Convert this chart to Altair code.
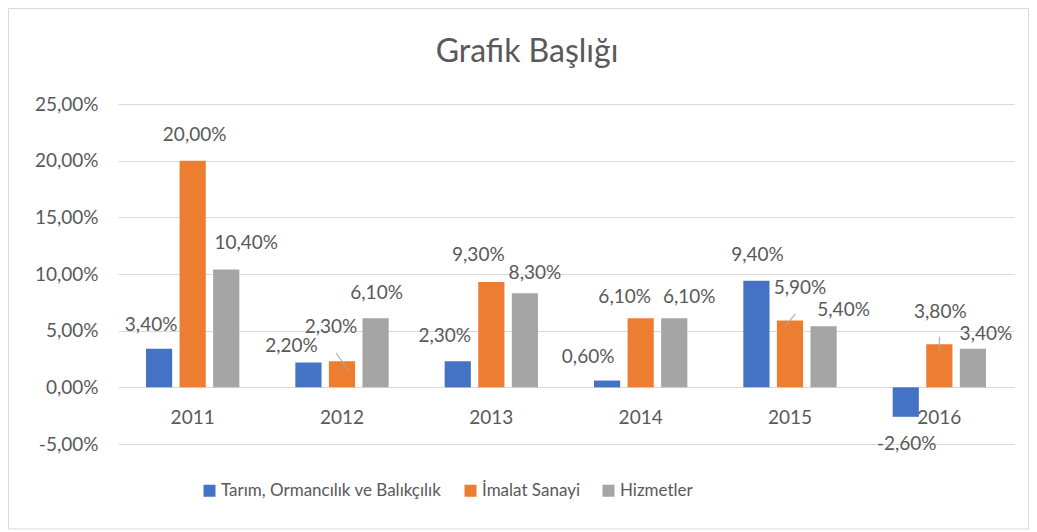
import altair as alt
import pandas as pd

years = ["2011", "2012", "2013", "2014", "2015", "2016"]
series = ["Tarım, Ormancılık ve Balıkçılık", "İmalat Sanayi", "Hizmetler"]
tarim = [3.4, 2.2, 2.3, 0.6, 9.4, -2.6]
imalat = [20.0, 2.3, 9.3, 6.1, 5.9, 3.8]
hizmet = [10.4, 6.1, 8.3, 6.1, 5.4, 3.4]
colors = ["#4472C4", "#ED7D31", "#A5A5A5"]
y_ticks = [-5, 0, 5, 10, 15, 20, 25]
title_text = "Grafik Başlığı"

# label nudges in pixels, relative to the default outside-end position
label_dx = [[-8, -17, -13, -19, 1, 1], [2, -11, -13, -16, 10, 1], [20, 1, 10, 15, 20, 13]]
label_dy = [[-4, 4, -5, -4, -6, 7], [-6, -14, -7, -1, -12, -12], [-6, -5, 0, -1, 4, 5]]
# leader lines: (year, series index, dx, dy, length, angle)
leaders = [("2012", 1, -4, -9.4, 21, 54.7), ("2015", 1, 6, -7.3, 17, 129.6), ("2016", 1, 1, -7, 15, 90)]

FONT = "Lato"
TXT = "#595959"

rows = []
for si, vals in enumerate([tarim, imalat, hizmet]):
    for yi, v in enumerate(vals):
        rows.append({"year": years[yi], "series": series[si], "value": v,
                     "label": f"{v:.2f}".replace(".", ",") + "%"})
df = pd.DataFrame(rows)

W, H = 896, 340

x_enc = alt.X("year:N", sort=years, axis=None,
              scale=alt.Scale(paddingInner=0.375, paddingOuter=0.1875))
xo_enc = alt.XOffset("series:N", sort=series,
                     scale=alt.Scale(domain=series, paddingInner=0.22))
y_enc = alt.Y("value:Q",
              scale=alt.Scale(domain=[-5, 25], nice=False, zero=False),
              axis=alt.Axis(values=y_ticks, domain=False, ticks=False, grid=True,
                            gridColor="#d9d9d9", gridWidth=1,
                            labelExpr="(datum.value < 0 ? '-' : '') + replace(format(abs(datum.value), '.2f'), '.', ',') + '%'",
                            labelFont=FONT, labelFontSize=19, labelColor=TXT,
                            labelPadding=20, title=None))

frame = alt.Chart(pd.DataFrame({"a": [0]})).mark_rect(
    fillOpacity=0, stroke="#d9d9d9", strokeWidth=1
).encode(x=alt.value(-109.5), x2=alt.value(W + 14.5),
         y=alt.value(-95.5), y2=alt.value(H + 85))

title = alt.Chart(pd.DataFrame({"t": [title_text]})).mark_text(
    font=FONT, fontSize=32, color=TXT, baseline="alphabetic", align="center"
).encode(x=alt.value(W / 2 - 39), y=alt.value(-42), text="t:N")

bars = alt.Chart(df).mark_bar().encode(
    x=x_enc, xOffset=xo_enc, y=y_enc, y2=alt.datum(0),
    color=alt.Color("series:N", sort=series,
                    scale=alt.Scale(domain=series, range=colors),
                    legend=alt.Legend(orient="none", legendX=83, legendY=378,
                                      direction="horizontal", title=None,
                                      symbolType="square", symbolSize=144,
                                      symbolStrokeWidth=0, labelFont=FONT,
                                      labelFontSize=17, labelColor=TXT,
                                      labelLimit=500,
                                      labelOffset=3, columnPadding=20)),
)

cat_labels = alt.Chart(pd.DataFrame({"year": years})).mark_text(
    font=FONT, fontSize=19, color=TXT, baseline="middle", dy=31
).encode(x=alt.X("year:N", sort=years), y=alt.datum(0), text="year:N")

layers = [frame, title, bars, cat_labels]

for si, s in enumerate(series):
    for yi, yr in enumerate(years):
        v = [tarim, imalat, hizmet][si][yi]
        base = -20 if v >= 0 else 20
        t = alt.Chart(df).transform_filter(
            (alt.datum.year == yr) & (alt.datum.series == s)
        ).mark_text(font=FONT, fontSize=19, color=TXT, baseline="middle",
                    dx=label_dx[si][yi], dy=base + label_dy[si][yi]).encode(
            x=alt.X("year:N", sort=years), xOffset=alt.XOffset("series:N", sort=series),
            y="value:Q", text="label:N")
        layers.append(t)

for yr, si, ddx, ddy, ln, ang in leaders:
    s = series[si]
    p = alt.Chart(df).transform_filter(
        (alt.datum.year == yr) & (alt.datum.series == s)
    ).mark_point(shape="M-1,0L1,0", size=ln * ln, angle=ang, filled=False,
                 stroke="#a6a6a6", strokeWidth=1, opacity=1,
                 dx=ddx, dy=ddy).encode(
        x=alt.X("year:N", sort=years), xOffset=alt.XOffset("series:N", sort=series),
        y="value:Q")
    layers.append(p)

chart = alt.layer(*layers).properties(
    width=W, height=H,
    autosize=alt.AutoSizeParams(type="none"),
    padding={"left": 110, "top": 96, "right": 15, "bottom": 86},
).configure_view(strokeWidth=0)

chart.save("out.html", embed_options={"renderer": "svg", "actions": False})
